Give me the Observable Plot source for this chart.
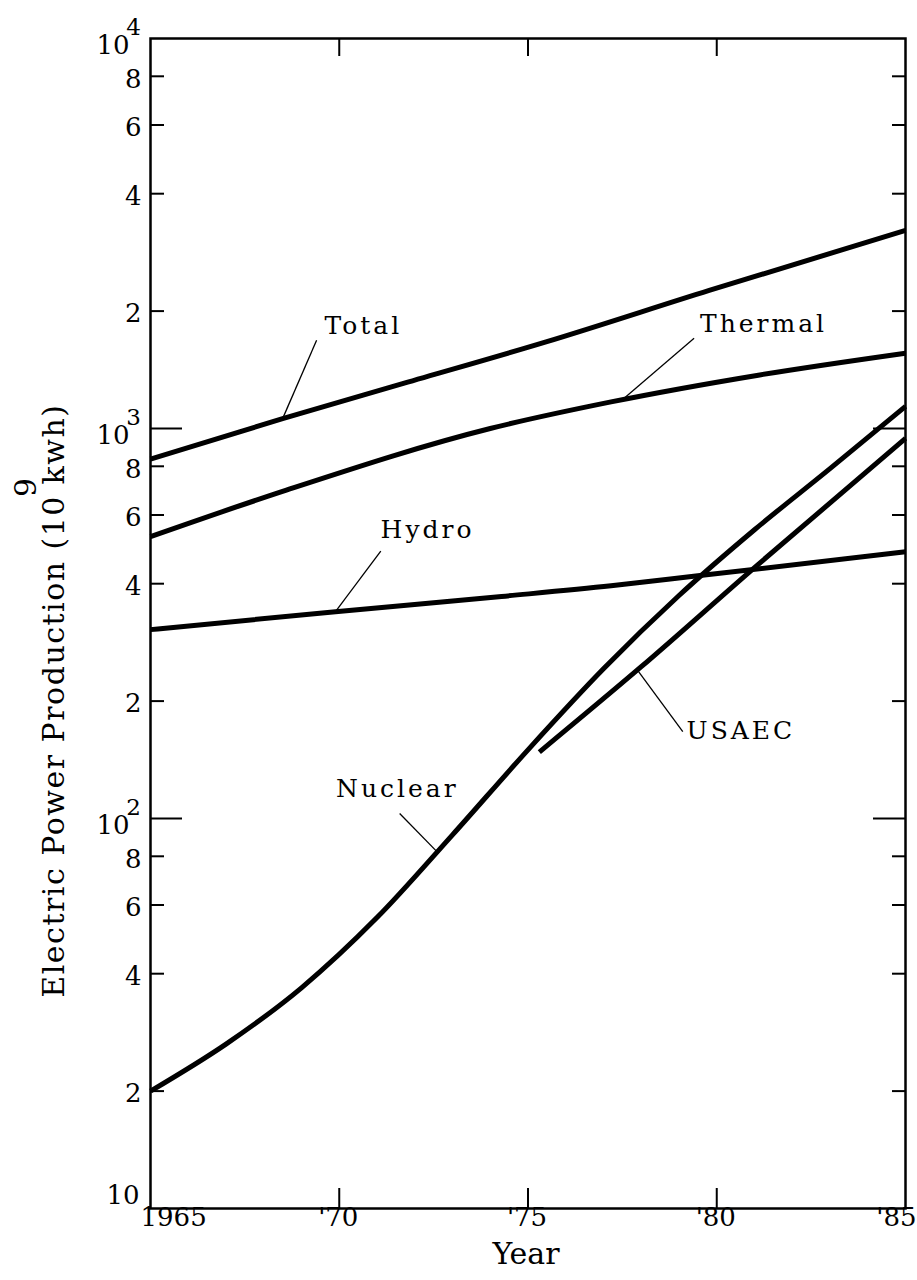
<!DOCTYPE html>
<html>
<head>
<meta charset="utf-8">
<script src="https://cdn.jsdelivr.net/npm/d3@7"></script>
<script src="https://cdn.jsdelivr.net/npm/@observablehq/plot@0.6"></script>
<style>
  html, body { margin: 0; padding: 0; background: #fff; }
  #chart { width: 917px; height: 1280px; }
</style>
</head>
<body>
<div id="chart"></div>
<script>
// ---------------- data ----------------
const seriesNames = ["Total", "Thermal", "Hydro", "Nuclear", "USAEC"];

const totalYears   = [1965, 1968.5, 1971.7, 1975.5, 1979.8, 1985];
const totalValues  = [835, 1060, 1305, 1670, 2260, 3220];

const thermalYears  = [1965, 1968.6, 1974.0, 1977.2, 1981.1, 1985];
const thermalValues = [528, 695, 1000, 1170, 1370, 1560];

const hydroYears  = [1965, 1969.9, 1974.3, 1977.2, 1979.5, 1985];
const hydroValues = [305, 339, 371, 395, 419, 483];

const nuclearYears  = [1965, 1967, 1969, 1971, 1973, 1975, 1977, 1979, 1981, 1983, 1985];
const nuclearValues = [20, 26.4, 36.8, 55.7, 90.8, 150, 242, 373, 550, 789, 1140];

const usaecYears  = [1975.3, 1978, 1981, 1985];
const usaecValues = [148, 245, 440, 943];

// curve label annotations (data units)
const labelYears       = [1970.6, 1981.2, 1972.3, 1971.5, 1980.6];
const labelValues      = [1830, 1850, 548, 119, 168];
const leaderFromYears  = [1968.5, 1977.5, 1969.9, 1972.6, 1977.9];
const leaderFromValues = [1060, 1185, 339, 82, 240];
const leaderToYears    = [1969.4, 1979.4, 1971.1, 1971.6, 1979.1];
const leaderToValues   = [1683, 1704, 485, 103, 167];

// axes
const xTickYears  = [1965, 1970, 1975, 1980, 1985];
const xTickLabels = ["1965", "'70", "'75", "'80", "'85"];
const xInnerTicks = [1970, 1975, 1980];
const yMinorTicks = [20, 40, 60, 80, 200, 400, 600, 800, 2000, 4000, 6000, 8000];
const yDecadeTicks = [100, 1000];
const yPowerLabels = [100, 1000, 10000];
const yPowerExponents = ["2", "3", "4"];
const yBaseLabel = [10];

// ---------------- build ----------------
const W = 917, H = 1280;
const mL = 150, mR = 12, mT = 38, mB = 72;
const innerW = W - mL - mR, innerH = H - mT - mB;

const table = [];
[[totalYears, totalValues], [thermalYears, thermalValues], [hydroYears, hydroValues],
 [nuclearYears, nuclearValues], [usaecYears, usaecValues]].forEach(([ys, vs], k) => {
  ys.forEach((y, i) => table.push({series: seriesNames[k], year: y, value: vs[i]}));
});

const notes = seriesNames.map((name, i) => ({
  name,
  lx: labelYears[i], ly: labelValues[i],
  fx: leaderFromYears[i], fy: leaderFromValues[i],
  tx: leaderToYears[i], ty: leaderToValues[i]
}));

const xTicks = xTickYears.map((y, i) => ({year: y, label: xTickLabels[i]}));
const powers = yPowerLabels.map((v, i) => ({value: v, exp: yPowerExponents[i]}));

const FONT = "'DejaVu Serif', 'Liberation Serif', serif";

const chart = Plot.plot({
  width: W, height: H,
  marginLeft: mL, marginRight: mR, marginTop: mT, marginBottom: mB,
  style: {fontFamily: FONT, background: "#fff", color: "#000"},
  x: {domain: [1965, 1985], axis: null},
  y: {type: "log", domain: [10, 10000], axis: null},
  marks: [
    // frame
    Plot.frame({stroke: "#000", strokeWidth: 2.5}),
    // left ticks (inward)
    Plot.tickY(yMinorTicks, {y: d => d, insetRight: innerW - 14, stroke: "#000", strokeWidth: 2}),
    Plot.tickY(yDecadeTicks, {y: d => d, insetRight: innerW - 32, stroke: "#000", strokeWidth: 2}),
    // right ticks (inward)
    Plot.tickY(yMinorTicks, {y: d => d, insetLeft: innerW - 13, stroke: "#000", strokeWidth: 2}),
    Plot.tickY(yDecadeTicks, {y: d => d, insetLeft: innerW - 32, stroke: "#000", strokeWidth: 2}),
    // bottom & top ticks (inward)
    Plot.tickX(xInnerTicks, {x: d => d, insetTop: innerH - 20, stroke: "#000", strokeWidth: 2}),
    Plot.tickX(xInnerTicks, {x: d => d, insetBottom: innerH - 18, stroke: "#000", strokeWidth: 2}),
    // y tick labels
    Plot.text(yMinorTicks, {y: d => d, frameAnchor: "left", text: d => String(d).charAt(0),
      textAnchor: "end", dx: -9, dy: 3, fontSize: 26, fill: "#000"}),
    Plot.text(powers, {y: "value", frameAnchor: "left", text: () => "10",
      textAnchor: "end", dx: -21, dy: 7, fontSize: 26, fill: "#000"}),
    Plot.text(powers, {y: "value", frameAnchor: "left", text: "exp",
      textAnchor: "middle", dx: -17, dy: -11, fontSize: 23, fill: "#000"}),
    Plot.text(yBaseLabel, {y: d => d, frameAnchor: "left", text: () => "10",
      textAnchor: "end", dx: -11, dy: -13, fontSize: 26, fill: "#000"}),
    // x tick labels
    Plot.text(xTicks.slice(0, 1), {x: "year", frameAnchor: "bottom", text: "label",
      textAnchor: "start", dx: -10, dy: 17, fontSize: 26, fill: "#000"}),
    Plot.text(xTicks.slice(1, -1), {x: "year", frameAnchor: "bottom", text: "label",
      textAnchor: "middle", dx: -1, dy: 17, fontSize: 26, fill: "#000"}),
    Plot.text(xTicks.slice(-1), {x: "year", frameAnchor: "bottom", text: "label",
      textAnchor: "end", dx: 11, dy: 17, fontSize: 26, fill: "#000"}),
    // x axis title
    Plot.text(["Year"], {frameAnchor: "bottom", text: d => d, dx: -2, dy: 55,
      fontSize: 30, fill: "#000"}),
    // curves
    Plot.line(table, {x: "year", y: "value", z: "series", curve: "monotone-x",
      stroke: "#000", strokeWidth: 5, strokeLinecap: "butt", strokeLinejoin: "round"}),
    // leaders
    Plot.link(notes, {x1: "fx", y1: "fy", x2: "tx", y2: "ty", stroke: "#000", strokeWidth: 1.3}),
    // labels
    Plot.text(notes, {x: "lx", y: "ly", text: "name", fontSize: 25, fill: "#000", dx: 1.5})
  ]
});

document.getElementById("chart").appendChild(chart);

// letter spacing of curve labels
d3.select(chart).selectAll("text")
  .filter(function() { return seriesNames.includes(this.textContent); })
  .attr("letter-spacing", 3);

// y-axis title with superscript
const yScale = chart.scale("y");
const yc = yScale.apply(200);
const t = d3.select(chart).append("text")
  .attr("transform", `translate(64,${yc}) rotate(-90)`)
  .attr("text-anchor", "middle")
  .attr("font-family", FONT)
  .attr("font-size", 30)
  .attr("letter-spacing", 1.5)
  .attr("fill", "#000");
t.append("tspan").text("Electric Power Production (10");
t.append("tspan").attr("dy", -28).attr("dx", -2).text("9");
t.append("tspan").attr("dy", 28).attr("dx", -8).text("kwh)");
</script>
</body>
</html>
